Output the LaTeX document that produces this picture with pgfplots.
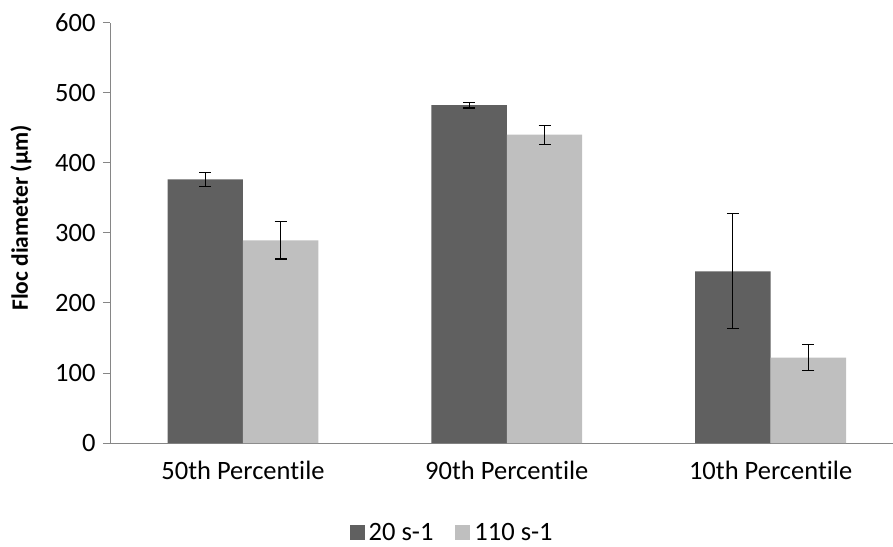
\documentclass[border=0pt]{standalone}
\usepackage{fontspec}
\setmainfont{Carlito}[Ligatures=NoCommon]
\usepackage{pgfplots}
\pgfplotsset{compat=1.18}
\definecolor{darkbar}{HTML}{606060}
\definecolor{lightbar}{HTML}{BFBFBF}
\definecolor{axisgray}{HTML}{868686}
\begin{document}
\begin{tikzpicture}
\path[use as bounding box] (0,0) rectangle (893pt,546pt);
\begin{axis}[
  at={(110pt,103pt)}, anchor=south west,
  scale only axis,
  width=783pt, height=420.5pt,
  xmin=-0.504, xmax=2.464,
  ymin=0, ymax=600,
  ytick={0,100,...,600},
  xtick={0,1,2},
  xticklabels={50th Percentile,90th Percentile,10th Percentile},
  major x tick style={draw=none},
  ytick style={axisgray, line width=0.8pt},
  major tick length=7pt,
  tick align=outside,
  axis x line*=bottom, axis y line*=left,
  axis line style={axisgray, line width=0.9pt, -},
  ybar=0pt, bar width=0.286,
  /pgf/number format/assume math mode=true,
  tick label style={font=\fontsize{26.5}{30}\selectfont, black},
  yticklabel style={xshift=-4pt},
  xticklabel style={yshift=-8pt},
  ylabel={\textbf{Floc diameter (µm)}},
  ylabel style={font=\fontsize{23.5}{28}\selectfont, at={(axis description cs:-0.1137,0.535)}, anchor=center},
  legend style={at={(0.437,-0.214)}, anchor=center, draw=none, font=\fontsize{26.5}{30}\selectfont, legend columns=2, /tikz/every even column/.append style={column sep=20pt}, /tikz/every odd column/.append style={column sep=2pt}},
  legend image code/.code={\fill[#1] (-1pt,-7.5pt) rectangle (14pt,7.5pt);},
  error bars/y dir=both, error bars/y explicit,
  error bars/error bar style={black, line width=1.1pt},
  error bars/error mark options={black, line width=1.1pt, rotate=90, mark size=6pt},
]
\addplot[fill=darkbar, draw=none] coordinates {
  (0,376) +- (0,10)
  (1,482) +- (0,4)
  (2,245) +- (0,82)
};
\addplot[fill=lightbar, draw=none] coordinates {
  (0,289) +- (0,26.5)
  (1,440) +- (0,13.5)
  (2,122) +- (0,18)
};
\legend{20 s-1, 110 s-1}
\end{axis}
\end{tikzpicture}
\end{document}
